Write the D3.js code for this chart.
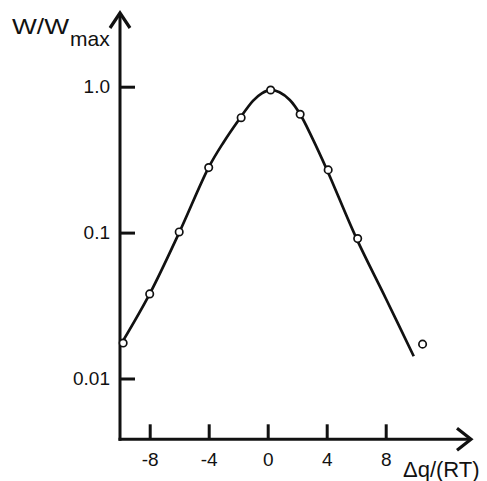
<!DOCTYPE html>
<html>
<head>
<meta charset="utf-8">
<script src="https://cdn.jsdelivr.net/npm/d3@7"></script>
<style>
  html, body { margin: 0; padding: 0; background: #fff; }
  svg { display: block; }
  text { font-family: "Liberation Sans", Arial, Helvetica, sans-serif; fill: #111; }
</style>
</head>
<body>
<svg id="chart" width="487" height="481"></svg>
<script>
// ---- data ----
const pointX = [-9.8, -8.0, -6.0, -4.0, -1.8, 0.2, 2.2, 4.1, 6.1, 10.5];
const pointW = [0.0175, 0.038, 0.101, 0.279, 0.613, 0.949, 0.647, 0.269, 0.091, 0.0172];

const curveX = [-10, -8, -6, -4, -3, -2, -1, -0.4, 0.2, 0.8, 1.5, 2.2, 3, 4, 6, 8, 9.9];
const curveW = [0.0168, 0.038, 0.1, 0.28, 0.415, 0.585, 0.8, 0.9, 0.95, 0.915, 0.81, 0.647, 0.45, 0.272, 0.092, 0.0355, 0.0142];

const xTicks = [-8, -4, 0, 4, 8];
const xTickLabels = ["-8", "-4", "0", "4", "8"];
const yTicks = [0.01, 0.1, 1];
const yTickLabels = ["0.01", "0.1", "1.0"];

const xLabel = "Δq/(RT)";
const yLabelMain = "W/W";
const yLabelSub = "max";

// ---- layout ----
const svg = d3.select("#chart");
const x = d3.scaleLinear().domain([-10, 10]).range([120.2, 415.2]);
const y = d3.scaleLog().domain([0.01, 1]).range([378.5, 86.7]);
const axisY0 = 439.3; // x-axis baseline
const axisX0 = 120;   // y-axis position

const ink = "#111";
const font = '"Liberation Sans", Arial, sans-serif';

// x axis
const gx = svg.append("g").attr("transform", `translate(0,${axisY0})`)
  .call(d3.axisBottom(x).tickValues(xTicks)
    .tickFormat((d, i) => xTickLabels[i])
    .tickSizeInner(-15).tickSizeOuter(0).tickPadding(13));
gx.select(".domain").remove();
gx.selectAll(".tick line").attr("stroke", ink).attr("stroke-width", 3);
gx.selectAll(".tick text").attr("font-size", 19).attr("fill", ink).style("font-family", font);

// y axis
const gy = svg.append("g").attr("transform", `translate(${axisX0},0)`)
  .call(d3.axisLeft(y).tickValues(yTicks)
    .tickFormat((d, i) => yTickLabels[i])
    .tickSizeInner(-15).tickSizeOuter(0).tickPadding(10));
gy.select(".domain").remove();
gy.selectAll(".tick line").attr("stroke", ink).attr("stroke-width", 3);
gy.selectAll(".tick text").attr("font-size", 19).attr("fill", ink).style("font-family", font);

// axis lines with arrows
svg.append("line").attr("x1", axisX0).attr("y1", axisY0 + 1.5).attr("x2", axisX0).attr("y2", 13)
  .attr("stroke", ink).attr("stroke-width", 3);
svg.append("path").attr("d", `M${axisX0 - 10},28 L${axisX0},13 L${axisX0 + 10},28`)
  .attr("fill", "none").attr("stroke", ink).attr("stroke-width", 3.2).attr("stroke-linejoin", "miter");

svg.append("line").attr("x1", axisX0 - 1.5).attr("y1", axisY0).attr("x2", 470).attr("y2", axisY0)
  .attr("stroke", ink).attr("stroke-width", 3);
svg.append("path").attr("d", `M457,${axisY0 - 11} L471,${axisY0} L457,${axisY0 + 11}`)
  .attr("fill", "none").attr("stroke", ink).attr("stroke-width", 3.2).attr("stroke-linejoin", "miter");

// curve
const curveData = curveX.map((v, i) => [v, curveW[i]]);
const line = d3.line().x(d => x(d[0])).y(d => y(d[1])).curve(d3.curveCatmullRom.alpha(0.5));
svg.append("path").datum(curveData).attr("d", line)
  .attr("fill", "none").attr("stroke", ink).attr("stroke-width", 2.7);

// points
const pts = pointX.map((v, i) => [v, pointW[i]]);
svg.selectAll("circle.pt").data(pts).enter().append("circle")
  .attr("class", "pt")
  .attr("cx", d => x(d[0])).attr("cy", d => y(d[1])).attr("r", 3.7)
  .attr("fill", "#fff").attr("stroke", ink).attr("stroke-width", 1.7);

// labels
svg.append("text").attr("x", 403).attr("y", 477).attr("font-size", 22).text(xLabel);

const yl = svg.append("text").attr("x", 12).attr("y", 33.5).attr("font-size", 22);
yl.append("tspan").attr("textLength", 57).attr("lengthAdjust", "spacingAndGlyphs").text(yLabelMain);
yl.append("tspan").attr("x", 70).attr("y", 45.5).attr("font-size", 21).text(yLabelSub);
</script>
</body>
</html>
